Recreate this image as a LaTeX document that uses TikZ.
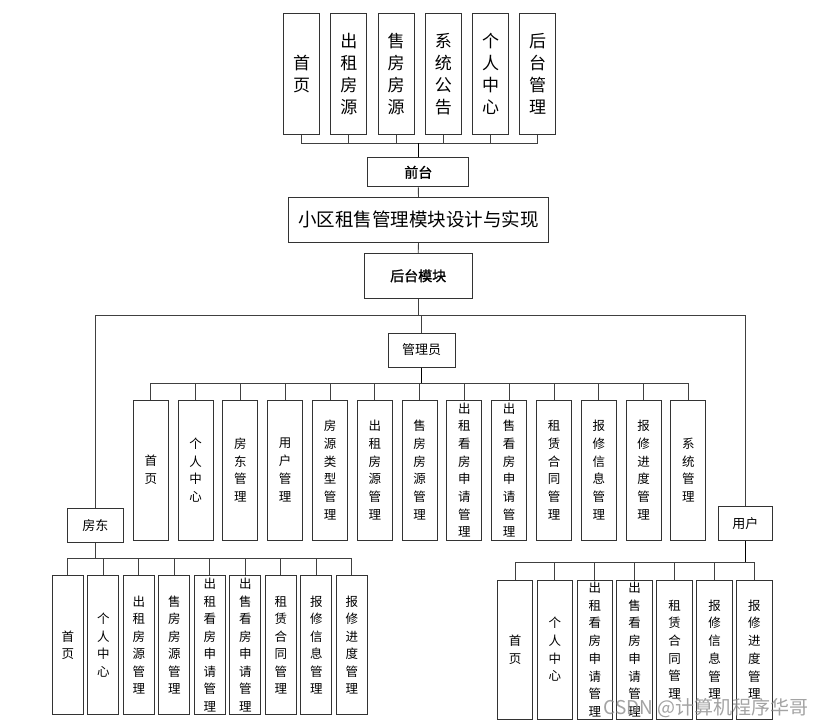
\documentclass[tikz,border=0pt]{standalone}
\usepackage{fontspec}
\newfontfamily\cjk{Noto Sans CJK SC}
\newfontfamily\cjkb[FakeBold=1.5]{Noto Sans CJK SC}
\tikzset{
  box/.style={draw=black!80, line width=1pt, inner sep=0pt, align=center, fill=white},
  topbox/.style={box, minimum width=36pt, minimum height=121pt, font=\cjk\fontsize{17}{22}\selectfont},
  abox/.style={box, minimum width=35pt, minimum height=140pt, font=\cjk\fontsize{12.5}{17.7}\selectfont},
  lbox/.style={box, minimum width=31pt, minimum height=138.6pt, font=\cjk\fontsize{12.5}{17.5}\selectfont},
  ubox/.style={box, minimum width=35.5pt, minimum height=139pt, font=\cjk\fontsize{12.5}{17.7}\selectfont},
  conn/.style={draw=black!75, line width=0.9pt},
  trunk/.style={draw=black, line width=1.3pt},
}
\begin{document}
\begin{tikzpicture}[x=1pt,y=-1pt]
\useasboundingbox[fill=white] (0,0) rectangle (828,726);
% top row
\node[topbox] (t1) at (301.7,73.8) {首\\页};
\node[topbox] (t2) at (348.9,73.8) {出\\租\\房\\源};
\node[topbox] (t3) at (396.1,73.8) {售\\房\\房\\源};
\node[topbox] (t4) at (443.3,73.8) {系\\统\\公\\告};
\node[topbox] (t5) at (490.5,73.8) {个\\人\\中\\心};
\node[topbox] (t6) at (537.7,73.8) {后\\台\\管\\理};
\node[box, minimum width=101pt, minimum height=29pt, font=\cjkb\fontsize{14}{16}\selectfont] (qt) at (418.3,172.3) {前台};
\node[box, minimum width=260pt, minimum height=45pt, font=\cjk\fontsize{18.5}{20}\selectfont] (title) at (418.5,219.8) {小区租售管理模块设计与实现};
\node[box, minimum width=108pt, minimum height=45pt, font=\cjkb\fontsize{14}{16}\selectfont] (ht) at (418.2,275.8) {后台模块};
\coordinate (tb) at (418.3,143.3);
\draw[conn] (t1.south) -- (t1.south |- tb) -- (t6.south |- tb) -- (t6.south);
\foreach \k in {2,3,4,5} \draw[conn] (t\k.south) -- (t\k.south |- tb);
\draw[trunk] (qt.north) -- (tb);
\draw[conn] (qt.south) -- (title.north);
\draw[conn] (title.south) -- (ht.north);
% second level
\node[box, minimum width=67pt, minimum height=34pt, font=\cjk\fontsize{13}{15}\selectfont] (gly) at (421.5,350) {管理员};
\node[box, minimum width=56pt, minimum height=34pt, font=\cjk\fontsize{13}{15}\selectfont] (fd) at (95.3,525.3) {房东};
\node[box, minimum width=54pt, minimum height=34pt, font=\cjk\fontsize{13}{15}\selectfont] (yh) at (745.3,523.8) {用户};
\coordinate (hb) at (418.2,315.5);
\draw[conn] (ht.south) -- (hb);
\draw[conn] (fd.north) -- (fd.north |- hb) -- (yh.north |- hb) -- (yh.north);
\draw[conn] (gly.north) -- (gly.north |- hb);
% admin children
\node[abox] (a1) at (150.8,470) {首\\页};
\node[abox] (a2) at (195.6,470) {个\\人\\中\\心};
\node[abox] (a3) at (240.4,470) {房\\东\\管\\理};
\node[abox] (a4) at (285.2,470) {用\\户\\管\\理};
\node[abox] (a5) at (330.0,470) {房\\源\\类\\型\\管\\理};
\node[abox] (a6) at (374.8,470) {出\\租\\房\\源\\管\\理};
\node[abox] (a7) at (419.6,470) {售\\房\\房\\源\\管\\理};
\node[abox] (a8) at (464.4,470) {出\\租\\看\\房\\申\\请\\管\\理};
\node[abox] (a9) at (509.2,470) {出\\售\\看\\房\\申\\请\\管\\理};
\node[abox] (a10) at (554.0,470) {租\\赁\\合\\同\\管\\理};
\node[abox] (a11) at (598.8,470) {报\\修\\信\\息\\管\\理};
\node[abox] (a12) at (643.6,470) {报\\修\\进\\度\\管\\理};
\node[abox] (a13) at (688.4,470) {系\\统\\管\\理};
\coordinate (ab) at (421.5,383.3);
\draw[conn] (a1.north) -- (a1.north |- ab) -- (a13.north |- ab) -- (a13.north);
\foreach \k in {2,...,12} \draw[conn] (a\k.north) -- (a\k.north |- ab);
\draw[trunk] (gly.south) -- (ab);
% landlord children
\node[lbox] (l1) at (67.8,645) {首\\页};
\node[lbox] (l2) at (103.3,645) {个\\人\\中\\心};
\node[lbox] (l3) at (138.8,645) {出\\租\\房\\源\\管\\理};
\node[lbox] (l4) at (174.3,645) {售\\房\\房\\源\\管\\理};
\node[lbox] (l5) at (209.8,645) {出\\租\\看\\房\\申\\请\\管\\理};
\node[lbox] (l6) at (245.3,645) {出\\售\\看\\房\\申\\请\\管\\理};
\node[lbox] (l7) at (280.8,645) {租\\赁\\合\\同\\管\\理};
\node[lbox] (l8) at (316.3,645) {报\\修\\信\\息\\管\\理};
\node[lbox] (l9) at (351.8,645) {报\\修\\进\\度\\管\\理};
\coordinate (lb) at (95.3,558.7);
\draw[conn] (l1.north) -- (l1.north |- lb) -- (l9.north |- lb) -- (l9.north);
\foreach \k in {2,...,8} \draw[conn] (l\k.north) -- (l\k.north |- lb);
\draw[conn] (fd.south) -- (lb);
% user children
\node[ubox] (u1) at (515.0,649.5) {首\\页};
\node[ubox] (u2) at (554.9,649.5) {个\\人\\中\\心};
\node[ubox] (u3) at (594.8,649.5) {出\\租\\看\\房\\申\\请\\管\\理};
\node[ubox] (u4) at (634.7,649.5) {出\\售\\看\\房\\申\\请\\管\\理};
\node[ubox] (u5) at (674.6,649.5) {租\\赁\\合\\同\\管\\理};
\node[ubox] (u6) at (714.5,649.5) {报\\修\\信\\息\\管\\理};
\node[ubox] (u7) at (754.4,649.5) {报\\修\\进\\度\\管\\理};
\coordinate (ub) at (745.3,562.3);
\draw[conn] (u1.north) -- (u1.north |- ub) -- (u7.north |- ub) -- (u7.north);
\foreach \k in {2,...,6} \draw[conn] (u\k.north) -- (u\k.north |- ub);
\draw[trunk] (yh.south) -- (ub);
% watermark
\node[font=\cjk\fontsize{19}{21}\selectfont, text=black!45, opacity=0.8] (wm) at (706,708) {CSDN @计算机程序华哥};
\end{tikzpicture}
\end{document}
